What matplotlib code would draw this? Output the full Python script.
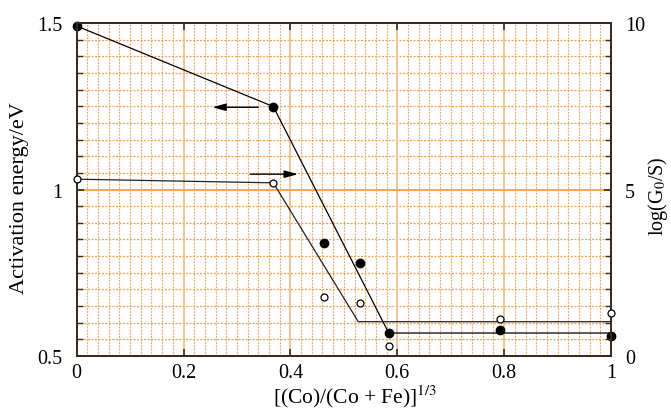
import matplotlib
matplotlib.use("Agg")
import matplotlib.pyplot as plt
from matplotlib.ticker import MultipleLocator, FixedLocator, FuncFormatter

# Data
x_ea = [0.0, 0.368, 0.463, 0.531, 0.584, 0.793, 1.0]
ea = [1.491, 1.249, 0.839, 0.779, 0.569, 0.579, 0.559]
x_g = [0.0, 0.368, 0.463, 0.531, 0.584, 0.793, 1.0]
logg = [5.31, 5.20, 1.76, 1.60, 0.29, 1.12, 1.29]
# guide lines
fit_ea_x = [0.0, 0.368, 0.584, 1.0]
fit_ea_y = [1.491, 1.249, 0.569, 0.569]
fit_g_x = [0.0, 0.368, 0.527, 1.0]
fit_g_y = [5.31, 5.20, 1.03, 1.03]

plt.rcParams['font.family'] = ['Liberation Serif', 'DejaVu Serif']
plt.rcParams['mathtext.fontset'] = 'stix'

fig = plt.figure(figsize=(6.71, 4.14), dpi=100)
ax = fig.add_axes([0.1143, 0.1377, 0.9106 - 0.1143, 0.942 - 0.1377])
ax2 = ax.twinx()

ax.set_xlim(0, 1)
ax.set_ylim(0.5, 1.5)
ax2.set_ylim(0, 10)

orange = '#f5a24c'
light = '#f7bd85'
dot = (0, (1.6, 1.2))
# minor dotted grid
for v in [i * 0.02 for i in range(1, 50)]:
    if abs(v / 0.2 - round(v / 0.2)) < 1e-6:
        continue
    ax.axvline(v, color=orange, lw=0.8, ls=dot, zorder=0)
for v in [0.5 + i * 0.05 for i in range(1, 20)]:
    if abs(v - 1.0) < 1e-6:
        continue
    ax.axhline(v, color=orange, lw=0.9, ls=dot, zorder=0)
for v in [0.2, 0.4, 0.6, 0.8]:
    ax.axvline(v, color=light, lw=1.3, zorder=0)
ax.axhline(1.0, color='#f5a55a', lw=1.4, zorder=0)

ax.plot(fit_ea_x, fit_ea_y, color='black', lw=0.9, zorder=3, clip_on=False)
ax.plot(x_ea, ea, 'o', color='black', ms=6, zorder=4, clip_on=False)
ax2.plot(fit_g_x, fit_g_y, color='#222222', lw=0.9, zorder=3, clip_on=False)
ax2.plot(x_g, logg, 'o', mfc='white', mec='black', mew=0.9, ms=5, zorder=4, clip_on=False)

# arrows
ax.annotate('', xy=(0.254, 1.247), xytext=(0.34, 1.247),
            arrowprops=dict(arrowstyle='-|>,head_length=0.8,head_width=0.22',
                            color='black', lw=1.0, shrinkA=0, shrinkB=0))
ax2.annotate('', xy=(0.414, 5.46), xytext=(0.325, 5.46),
             arrowprops=dict(arrowstyle='-|>,head_length=0.8,head_width=0.22',
                             color='black', lw=1.0, shrinkA=0, shrinkB=0))

fmt = FuncFormatter(lambda v, p: f"{v:g}")
ax.xaxis.set_major_locator(FixedLocator([0, 0.2, 0.4, 0.6, 0.8, 1.0]))
ax.xaxis.set_major_formatter(fmt)
ax.yaxis.set_major_locator(FixedLocator([0.5, 1.0, 1.5]))
ax.yaxis.set_major_formatter(fmt)
ax.yaxis.set_minor_locator(MultipleLocator(0.05))
ax2.yaxis.set_major_locator(FixedLocator([0, 5, 10]))
ax2.yaxis.set_major_formatter(fmt)
ax2.yaxis.set_minor_locator(MultipleLocator(0.5))

spine_c = '#3a2a1c'
for a in (ax, ax2):
    for s in a.spines.values():
        s.set_color(spine_c)
        s.set_linewidth(1.3)
ax.tick_params(axis='x', which='major', direction='in', top=True, length=5, width=1.2,
               color=spine_c, labelsize=14.5, pad=5)
ax.tick_params(axis='y', which='major', direction='in', length=5, width=1.2,
               color=spine_c, labelsize=14.5, pad=10)
ax.tick_params(axis='y', which='minor', direction='in', length=4, width=1.0, color=spine_c)
ax2.tick_params(axis='y', which='major', direction='in', length=5, width=1.2,
                color=spine_c, labelsize=14.5, pad=10)
ax2.tick_params(axis='y', which='minor', direction='in', length=4, width=1.0, color=spine_c)

ax.set_xlabel(r'[(Co)/(Co + Fe)]$^{1/3}$', fontsize=15.5)
ax.xaxis.set_label_coords(0.52, -0.08)
ax.set_ylabel('Activation energy/eV', fontsize=16)
ax.yaxis.set_label_coords(-0.09, 0.477)
ax2.set_ylabel(r'log(G$_0$/S)', fontsize=14.5)
ax2.yaxis.set_label_coords(1.066, 0.483)

fig.savefig('out.png', dpi=100)
